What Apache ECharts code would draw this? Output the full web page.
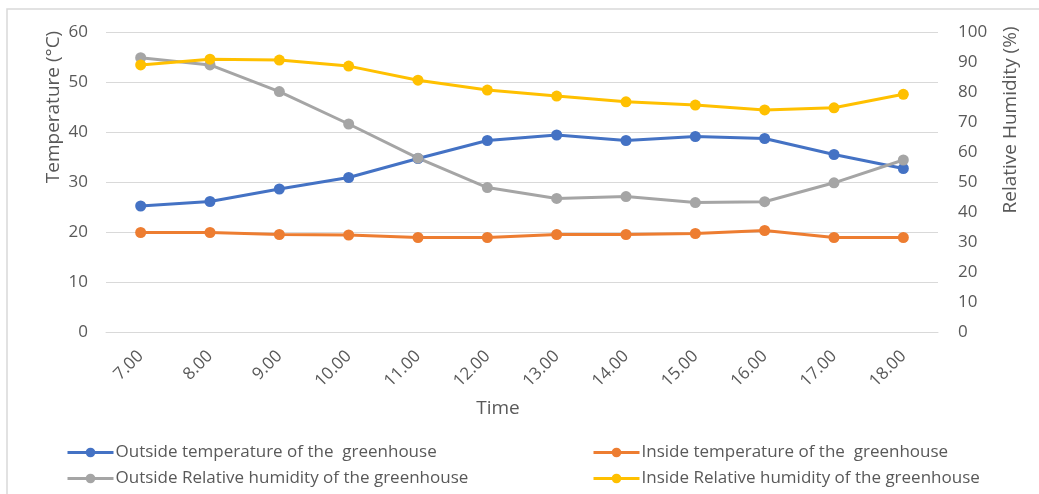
<!DOCTYPE html>
<html>
<head>
<meta charset="utf-8">
<script src="https://cdn.jsdelivr.net/npm/echarts@6/dist/echarts.min.js"></script>
<style>
  html, body { margin: 0; padding: 0; background: #fff; }
  #chart { width: 1039px; height: 494px; }
</style>
</head>
<body>
<div id="chart"></div>
<script>
// Hourly readings, 7:00 to 18:00
const hours = ['7.00', '8.00', '9.00', '10.00', '11.00', '12.00', '13.00', '14.00', '15.00', '16.00', '17.00', '18.00'];
const outsideTemp = [25.3, 26.2, 28.7, 31.0, 34.8, 38.4, 39.5, 38.4, 39.2, 38.8, 35.6, 32.8];
const insideTemp = [20.0, 20.0, 19.6, 19.5, 19.0, 19.0, 19.6, 19.6, 19.8, 20.4, 19.0, 19.0];
const outsideRH = [91.6, 89.2, 80.3, 69.5, 58.1, 48.3, 44.7, 45.3, 43.3, 43.6, 49.9, 57.5];
const insideRH = [89.2, 91.1, 90.8, 88.8, 84.1, 80.8, 78.8, 76.9, 75.8, 74.2, 74.9, 79.4];

const seriesNames = [
  'Outside temperature of the  greenhouse',
  'Inside temperature of the  greenhouse',
  'Outside Relative humidity of the greenhouse',
  'Inside Relative humidity of the greenhouse'
];
const colors = ['#4472C4', '#ED7D31', '#A5A5A5', '#FFC000'];

const FONT = 'Open Sans';
const TEXT = '#595959';

function lineSeries(i, data, axis) {
  return {
    name: seriesNames[i],
    type: 'line',
    yAxisIndex: axis,
    data: data,
    symbol: 'circle',
    symbolSize: 11,
    lineStyle: { width: 3, color: colors[i] },
    itemStyle: { color: colors[i] },
    emphasis: { disabled: true },
    animation: false
  };
}

// one legend entry per block: two columns, two rows
function legendEntry(name, left, top) {
  return {
    data: [name],
    left: left,
    top: top,
    padding: 0,
    itemWidth: 46,
    itemHeight: 12,
    lineStyle: { width: 3 },
    textStyle: { fontFamily: FONT, fontSize: 17, color: TEXT, padding: [0, 0, 0, -3] },
    selectedMode: false
  };
}

const chart = echarts.init(document.getElementById('chart'), null, { renderer: 'canvas' });

chart.setOption({
  color: colors,
  animation: false,
  grid: { left: 106, right: 101, top: 32.5, bottom: 161.5 },
  xAxis: {
    type: 'category',
    data: hours,
    boundaryGap: true,
    axisLine: { show: true, lineStyle: { color: '#D9D9D9', width: 1 } },
    axisTick: { show: false },
    axisLabel: {
      rotate: 45,
      margin: 21,
      fontFamily: FONT,
      fontSize: 17,
      color: TEXT
    }
  },
  yAxis: [
    {
      type: 'value',
      min: 0,
      max: 60,
      interval: 10,
      axisLine: { show: false },
      axisTick: { show: false },
      splitLine: { lineStyle: { color: '#D9D9D9', width: 1 } },
      axisLabel: { margin: 18, fontFamily: FONT, fontSize: 17, color: TEXT }
    },
    {
      type: 'value',
      min: 0,
      max: 100,
      interval: 10,
      axisLine: { show: false },
      axisTick: { show: false },
      splitLine: { show: false },
      axisLabel: { margin: 20, fontFamily: FONT, fontSize: 17, color: TEXT }
    }
  ],
  legend: [
    legendEntry(seriesNames[0], 66, 444),
    legendEntry(seriesNames[2], 66, 470),
    legendEntry(seriesNames[1], 592, 444),
    legendEntry(seriesNames[3], 592, 470)
  ],
  graphic: [
    {
      type: 'rect',
      silent: true,
      shape: { x: 7, y: 9, width: 1100, height: 600 },
      style: { fill: 'none', stroke: '#D9D9D9', lineWidth: 1.5 }
    },
    {
      type: 'text',
      silent: true,
      x: 54, y: 107,
      rotation: Math.PI / 2,
      style: {
        text: 'Temperature (°C)',
        fontFamily: FONT, fontSize: 19, fill: TEXT,
        align: 'center', verticalAlign: 'middle'
      }
    },
    {
      type: 'text',
      silent: true,
      x: 1011, y: 120,
      rotation: Math.PI / 2,
      style: {
        text: 'Relative Humidity (%)',
        fontFamily: FONT, fontSize: 19, fill: TEXT,
        align: 'center', verticalAlign: 'middle'
      }
    },
    {
      type: 'text',
      silent: true,
      x: 498, y: 409,
      style: {
        text: 'Time',
        fontFamily: FONT, fontSize: 19, fill: TEXT,
        align: 'center', verticalAlign: 'middle'
      }
    }
  ],
  series: [
    lineSeries(0, outsideTemp, 0),
    lineSeries(1, insideTemp, 0),
    lineSeries(2, outsideRH, 1),
    lineSeries(3, insideRH, 1)
  ]
});
</script>
</body>
</html>
